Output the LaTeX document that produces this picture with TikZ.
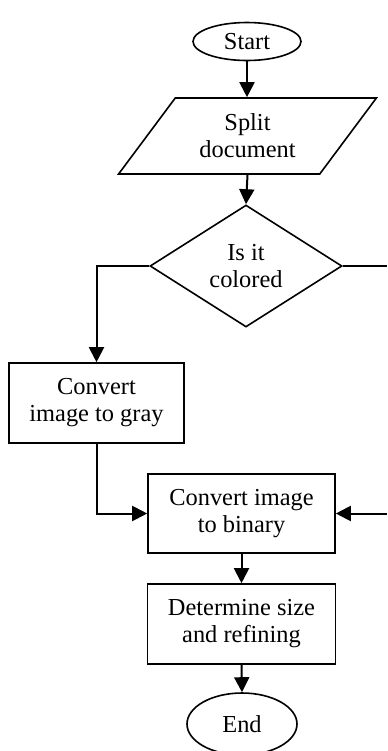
\documentclass[tikz,border=0pt]{standalone}
\usepackage{fontspec}
\setmainfont{Liberation Serif}
\usetikzlibrary{positioning, shapes.geometric, arrows.meta}

\tikzset{
	block/.style={draw, line width=0.8pt, align=center, inner sep=0pt},
	terminal/.style={block, ellipse},
	io/.style={block, trapezium, trapezium left angle=49.5, trapezium right angle=130.5, trapezium stretches=true},
	decision/.style={block, diamond},
	process/.style={block, rectangle},
	flow/.style={line width=1pt, -{Triangle[length=7.5pt, width=7.5pt]}},
	line/.style={line width=1pt}
}

\begin{document}
\begin{tikzpicture}[x=0.5pt, y=-0.5pt, font=\fontsize{12.2pt}{13.5pt}\selectfont]
	\useasboundingbox (0, 0) rectangle (387, 751);

	% Instances/Symbols:
	\node[terminal, minimum width=54pt, minimum height=19pt] (start) at (247, 41.5) {Start};
	\node[io, minimum width=129.5pt, minimum height=38pt] (split) at (247.5, 136) {Split\\document};
	\node[decision, minimum width=96pt, minimum height=61pt] (colored) at (246, 266) {Is it\\colored};
	\node[process, minimum width=87.5pt, minimum height=40pt] (gray) at (96.5, 403) {Convert\\image to gray};
	\node[process, minimum width=93.5pt, minimum height=39.5pt] (binary) at (241.5, 513.5) {Convert image\\to binary};
	\node[process, minimum width=94pt, minimum height=40pt] (refine) at (241.5, 624) {Determine size\\and refining};
	\node[terminal, minimum width=55pt, minimum height=31pt] (end) at (242, 724) {End};

	% Loose ends of the "no" branch:
	\coordinate (noOut) at (387, 266);
	\coordinate (noIn) at (387, 513.5);

	% Lines:
	\draw[flow] (start.south) -- (start.south |- split.north);
	\draw[flow] (split.south) -- (colored.north);
	\draw[flow] (colored.west) -| (gray.north);
	\draw[line] (colored.east) -- (noOut);
	\draw[flow] (gray.south) |- (binary.west);
	\draw[flow] (noIn) -- (binary.east);
	\draw[flow] (binary.south) -- (refine.north);
	\draw[flow] (refine.south) -- (end.north);

\end{tikzpicture}
\end{document}
